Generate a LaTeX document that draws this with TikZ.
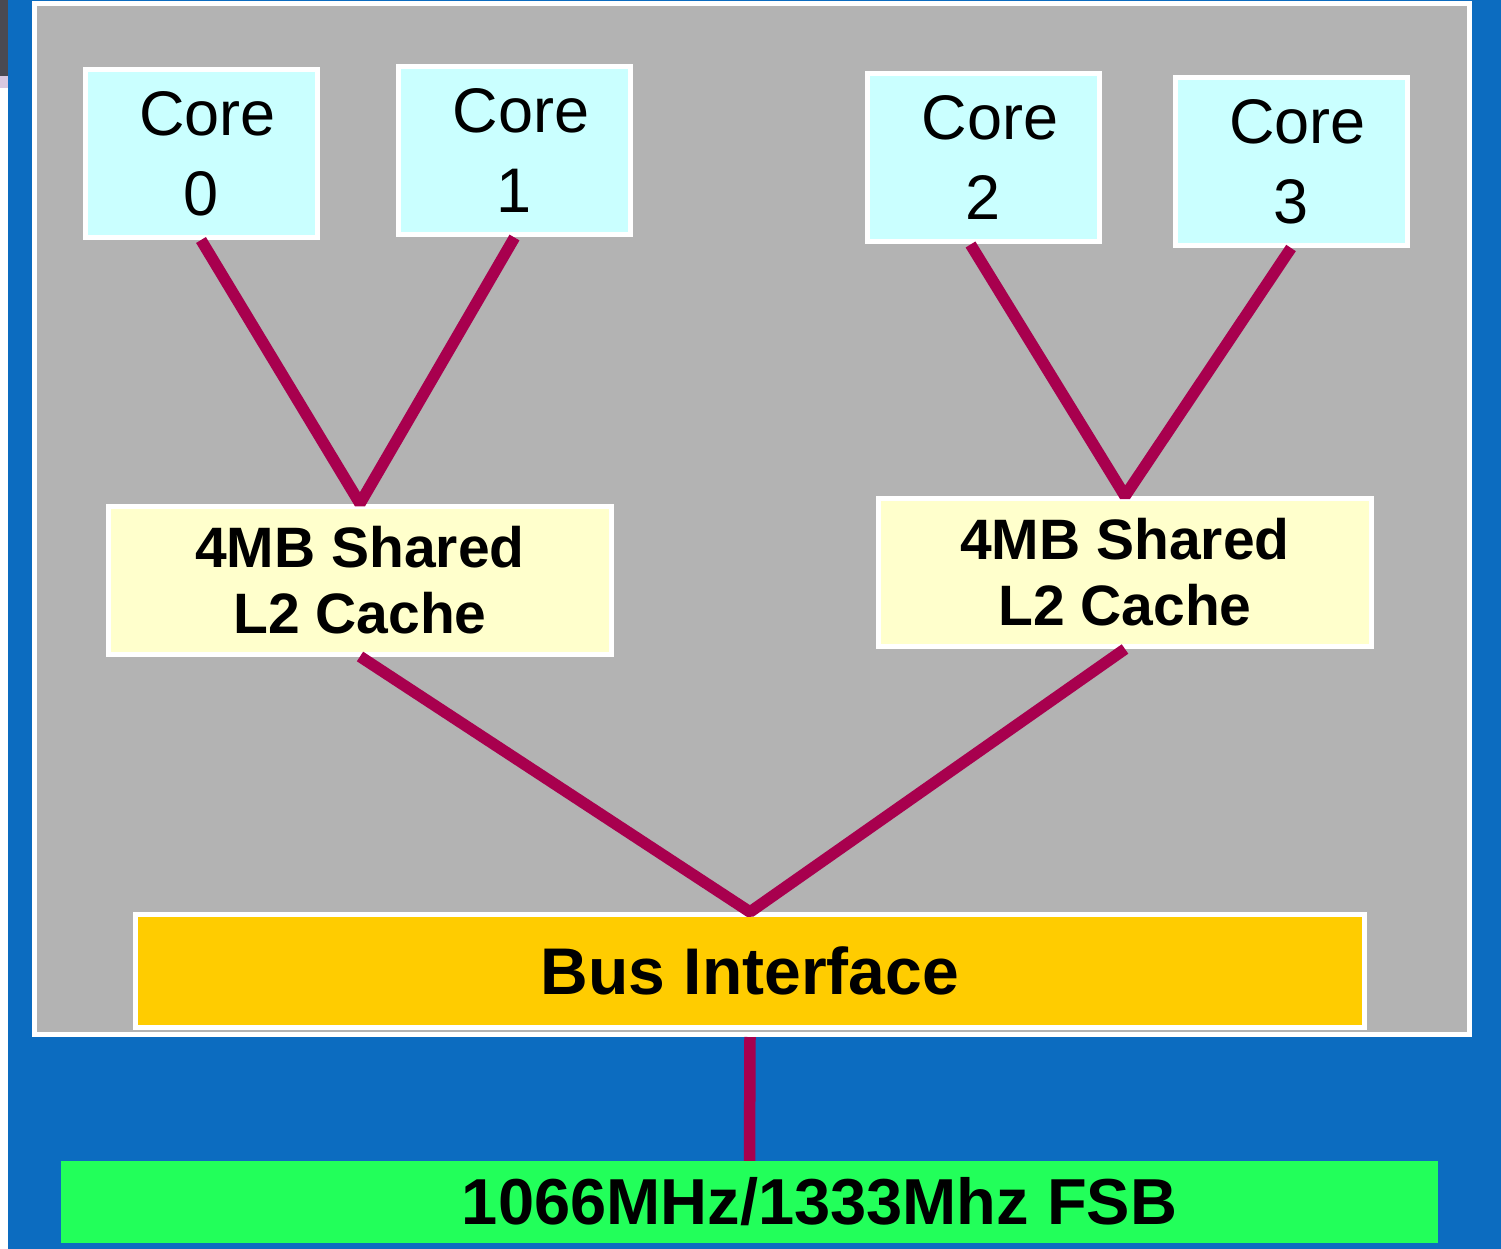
\documentclass[tikz,border=0pt]{standalone}
\usepackage{fontspec}
\setmainfont{Liberation Sans}
\definecolor{bgblue}{HTML}{0C6CC0}
\definecolor{boxgray}{HTML}{B3B3B3}
\definecolor{corecyan}{HTML}{CAFFFF}
\definecolor{cacheyellow}{HTML}{FFFFCC}
\definecolor{busorange}{HTML}{FFCC00}
\definecolor{fsbgreen}{HTML}{22FF5A}
\definecolor{linkred}{HTML}{A8004E}
\definecolor{artdark}{HTML}{4A4A52}
\definecolor{artlav}{HTML}{D8C8E0}
\begin{document}
\begin{tikzpicture}[x=1pt,y=-1pt,
  box/.style={rectangle, draw=white, line width=5pt, inner sep=0pt, align=center, text=black},
  core/.style={box, fill=corecyan, minimum width=232pt, minimum height=168pt, font=\fontsize{63}{80}\selectfont},
  cache/.style={box, fill=cacheyellow, minimum height=148pt, font=\fontsize{57}{66}\selectfont\bfseries},
  link/.style={draw=linkred, line width=11.5pt, line join=bevel}
]
\useasboundingbox (0,0) rectangle (1501,1249);
% background
\fill[white] (0,0) rectangle (8,1249);
\fill[artdark] (0,0) rectangle (8,76);
\fill[artlav] (0,76) rectangle (8,88);
\fill[bgblue] (8,0) rectangle (1501,1249);
% chip container
\node[draw=white, line width=5pt, fill=boxgray, minimum width=1435pt, minimum height=1031pt, inner sep=0pt] (chip) at (752,519) {};
% cores
\node[core] (core0) at (201,153.5) {\hspace*{13pt}Core\\0};
\node[core] (core1) at (514.5,151) {\hspace*{13pt}Core\\1};
\node[core] (core2) at (983.5,158) {\hspace*{13pt}Core\\2};
\node[core] (core3) at (1291,161.5) {\hspace*{13pt}Core\\3};
% caches
\node[cache, minimum width=503pt] (l2a) at (360,580) {4MB Shared\\L2 Cache};
\node[cache, minimum width=493pt] (l2b) at (1125,572.5) {4MB Shared\\L2 Cache};
% bus interface
\node[box, fill=busorange, minimum width=1229pt, minimum height=113pt, font=\fontsize{66}{76}\selectfont\bfseries] (bus) at (750,971) {Bus Interface};
% FSB
\node[rectangle, fill=fsbgreen, inner sep=0pt, minimum width=1377pt, minimum height=82pt, font=\fontsize{65}{76}\selectfont\bfseries] (fsb) at (749.5,1202) {\hspace*{140pt}1066MHz/1333Mhz FSB};
% connectors
\draw[link] (core0.south) -- (l2a.north) -- (core1.south);
\draw[link] ([xshift=-13pt]core2.south) -- (l2b.north) -- (core3.south);
\draw[link] (l2a.south) -- (bus.north) -- (l2b.south);
\draw[link] (chip.south -| bus.south) -- (fsb.north);
\end{tikzpicture}
\end{document}
